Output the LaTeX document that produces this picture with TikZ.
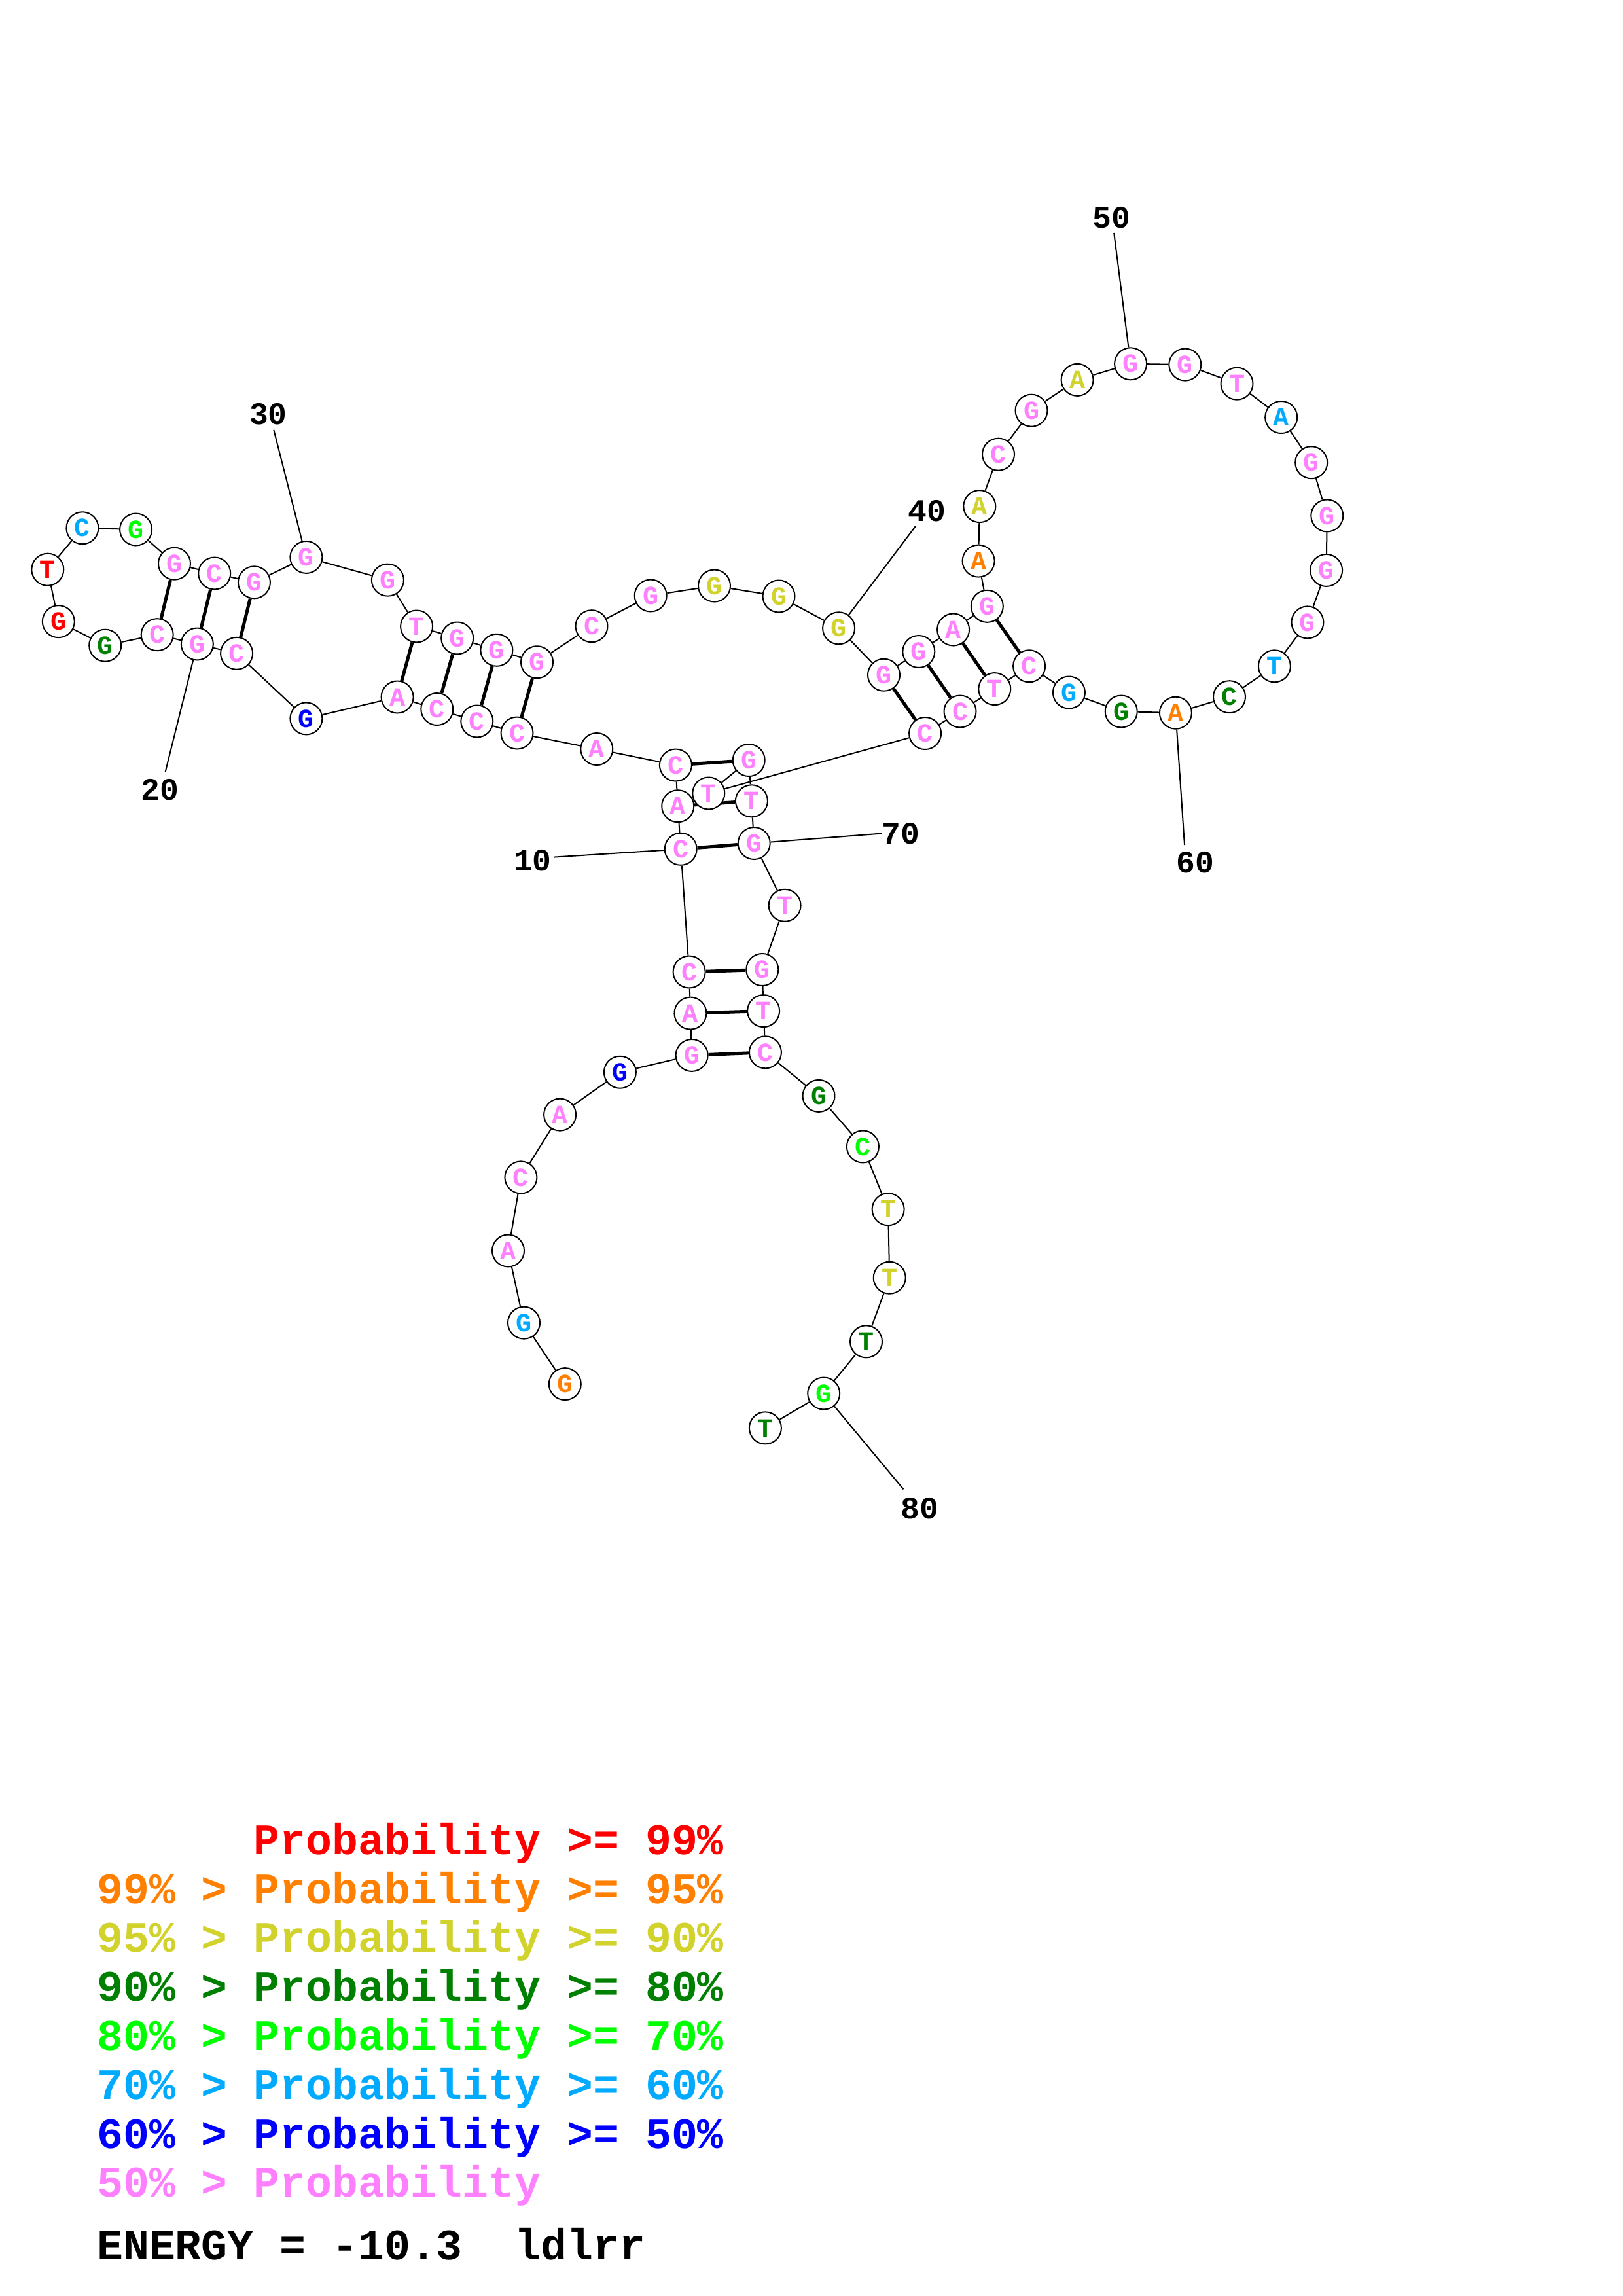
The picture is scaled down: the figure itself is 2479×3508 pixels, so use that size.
\documentclass[tikz,border=0pt]{standalone}
\usepackage{fontspec}
\newfontfamily\monofnt{Liberation Mono}
\usetikzlibrary{backgrounds}
\definecolor{cRed}{RGB}{255,0,0}
\definecolor{cOra}{RGB}{255,128,0}
\definecolor{cYel}{RGB}{210,210,45}
\definecolor{cDkg}{RGB}{0,128,0}
\definecolor{cGrn}{RGB}{0,255,0}
\definecolor{cCya}{RGB}{0,170,255}
\definecolor{cBlu}{RGB}{0,0,255}
\definecolor{cPnk}{RGB}{255,128,255}
\newcommand\nuc[5]{\node[nt,text=#5] (n#1) at (#2,#3) {#4};}
\begin{document}
\begin{tikzpicture}[x=1pt,y=-1pt,
  nt/.style={circle,draw,fill=white,line width=2pt,minimum size=49pt,inner sep=0pt,
    font={\monofnt\bfseries\fontsize{40}{40}\selectfont}},
  bb/.style={line width=2pt},
  bp/.style={line width=5pt},
  lab/.style={inner sep=0pt,font={\monofnt\bfseries\fontsize{48}{48}\selectfont}},
  leg/.style={anchor=base west,inner sep=0pt,font={\monofnt\bfseries\fontsize{66.5}{66.5}\selectfont}}]
\useasboundingbox (0,0) rectangle (2479,3508);
\nuc{1}{863.3}{2114.6}{G}{cOra}
\nuc{2}{800.5}{2021.1}{G}{cCya}
\nuc{3}{776.5}{1910.9}{A}{cPnk}
\nuc{4}{795.9}{1798.9}{C}{cPnk}
\nuc{5}{855.6}{1703.1}{A}{cPnk}
\nuc{6}{947.4}{1638.2}{G}{cBlu}
\nuc{7}{1057.1}{1612.4}{G}{cPnk}
\nuc{8}{1054.9}{1548.1}{A}{cPnk}
\nuc{9}{1053.1}{1485.0}{C}{cPnk}
\nuc{10}{1040.2}{1297.3}{C}{cPnk}
\nuc{11}{1035.7}{1231.7}{A}{cPnk}
\nuc{12}{1032.4}{1169}{C}{cPnk}
\nuc{13}{911.8}{1144.5}{A}{cPnk}
\nuc{14}{790}{1120}{C}{cPnk}
\nuc{15}{728.8}{1102}{C}{cPnk}
\nuc{16}{667.8}{1083.5}{C}{cPnk}
\nuc{17}{607.1}{1065}{A}{cPnk}
\nuc{18}{467.9}{1097.9}{G}{cBlu}
\nuc{19}{361.6}{998.3}{C}{cPnk}
\nuc{20}{301.3}{984.0}{G}{cPnk}
\nuc{21}{240.2}{969.7}{C}{cPnk}
\nuc{22}{160.7}{986.2}{G}{cDkg}
\nuc{23}{89.3}{949.6}{G}{cRed}
\nuc{24}{72.8}{870.2}{T}{cRed}
\nuc{25}{125.9}{806.8}{C}{cCya}
\nuc{26}{207.6}{809.0}{G}{cGrn}
\nuc{27}{266.5}{861.2}{G}{cPnk}
\nuc{28}{327.7}{876.0}{C}{cPnk}
\nuc{29}{388.4}{889.8}{G}{cPnk}
\nuc{30}{467.9}{851.4}{G}{cPnk}
\nuc{31}{592.4}{886.2}{G}{cPnk}
\nuc{32}{636.6}{957}{T}{cPnk}
\nuc{33}{698.7}{975}{G}{cPnk}
\nuc{34}{758.9}{993.3}{G}{cPnk}
\nuc{35}{820.5}{1011.7}{G}{cPnk}
\nuc{36}{904.0}{956.7}{C}{cPnk}
\nuc{37}{994.2}{910}{G}{cPnk}
\nuc{38}{1091.5}{895}{G}{cYel}
\nuc{39}{1190}{911}{G}{cYel}
\nuc{40}{1281.6}{959.8}{G}{cYel}
\nuc{41}{1350.5}{1031.2}{G}{cPnk}
\nuc{42}{1403.8}{995.5}{G}{cPnk}
\nuc{43}{1456.6}{962.0}{A}{cPnk}
\nuc{44}{1508.3}{926.3}{G}{cPnk}
\nuc{45}{1495.1}{857.1}{A}{cOra}
\nuc{46}{1496.8}{773.6}{A}{cYel}
\nuc{47}{1525.5}{694.2}{C}{cPnk}
\nuc{48}{1576.0}{627.2}{G}{cPnk}
\nuc{49}{1646.1}{580.4}{A}{cYel}
\nuc{50}{1727.6}{555.8}{G}{cPnk}
\nuc{51}{1810.8}{557.1}{G}{cPnk}
\nuc{52}{1890.0}{586.2}{T}{cPnk}
\nuc{53}{1957.7}{637.5}{A}{cCya}
\nuc{54}{2003.7}{706.7}{G}{cPnk}
\nuc{55}{2027.8}{787.9}{G}{cPnk}
\nuc{56}{2026.6}{871.4}{G}{cPnk}
\nuc{57}{1997.9}{950.9}{G}{cPnk}
\nuc{58}{1947.4}{1017.8}{T}{cCya}
\nuc{59}{1878.5}{1064.7}{C}{cDkg}
\nuc{60}{1796.4}{1089.2}{A}{cOra}
\nuc{61}{1713.2}{1087.0}{G}{cDkg}
\nuc{62}{1633.4}{1058.0}{G}{cCya}
\nuc{63}{1572.6}{1017.8}{C}{cPnk}
\nuc{64}{1519.8}{1052.6}{T}{cPnk}
\nuc{65}{1467.0}{1087.0}{C}{cPnk}
\nuc{66}{1413.6}{1120.5}{C}{cPnk}
\nuc{67}{1082.8}{1212}{T}{cPnk}
\nuc{68}{1144.2}{1161.5}{G}{cPnk}
\nuc{69}{1148.4}{1223.8}{T}{cPnk}
\nuc{70}{1152.2}{1288.5}{G}{cPnk}
\nuc{71}{1199.1}{1383.3}{T}{cPnk}
\nuc{72}{1164.8}{1481.5}{G}{cPnk}
\nuc{73}{1166.6}{1544.6}{T}{cPnk}
\nuc{74}{1169.4}{1607.8}{C}{cPnk}
\nuc{75}{1251.0}{1674.4}{G}{cDkg}
\nuc{76}{1318.4}{1751.9}{C}{cGrn}
\nuc{77}{1357.1}{1847.7}{T}{cYel}
\nuc{78}{1359.2}{1952.2}{T}{cYel}
\nuc{79}{1323.5}{2049.8}{T}{cDkg}
\nuc{80}{1258.7}{2129.0}{G}{cGrn}
\nuc{81}{1169.4}{2181.8}{T}{cDkg}
% label end points
\coordinate (e10) at (846.4,1309.6);
\coordinate (e20) at (252.7,1179.1);
\coordinate (e30) at (418.3,656.8);
\coordinate (e40) at (1399.2,803.6);
\coordinate (e50) at (1702.2,356);
\coordinate (e60) at (1810,1291);
\coordinate (e70) at (1347.3,1273.5);
\coordinate (e80) at (1380.4,2275.3);
\node[lab] (t10) at (813.8,1314.9) {10};
\node[lab] (t20) at (244.6,1206.3) {20};
\node[lab] (t30) at (409.8,632.7) {30};
\node[lab] (t40) at (1416.5,780.3) {40};
\node[lab] (t50) at (1698.2,332.7) {50};
\node[lab] (t60) at (1826,1318) {60};
\node[lab] (t70) at (1376,1273.5) {70};
\node[lab] (t80) at (1405,2304.5) {80};
\begin{pgfonlayer}{background}
\fill[white] (0,0) rectangle (2479,3508);
\foreach \i in {1,...,80}{
  \pgfmathtruncatemacro\j{\i+1}
  \draw[bb] (n\i) -- (n\j);
}
\foreach \a/\b in {7/74,8/73,9/72,10/70,11/69,12/68,14/35,15/34,16/33,17/32,19/29,20/28,21/27,41/66,42/65,43/64,44/63}
  \draw[bp] (n\a) -- (n\b);
\foreach \k in {10,20,...,80}
  \draw[bb] (n\k) -- (e\k);
\end{pgfonlayer}
% legend
\node[leg,text=cRed] (L1) at (148,2833.3) {\hphantom{99\%\ >\ }Probability >= 99\%};
\node[leg,text=cOra] (L2) at (148,2908.1) {99\%\ >\ Probability >= 95\%};
\node[leg,text=cYel] (L3) at (148,2982.9) {95\%\ >\ Probability >= 90\%};
\node[leg,text=cDkg] (L4) at (148,3057.7) {90\%\ >\ Probability >= 80\%};
\node[leg,text=cGrn] (L5) at (148,3132.5) {80\%\ >\ Probability >= 70\%};
\node[leg,text=cCya] (L6) at (148,3207.3) {70\%\ >\ Probability >= 60\%};
\node[leg,text=cBlu] (L7) at (148,3282.1) {60\%\ >\ Probability >= 50\%};
\node[leg,text=cPnk] (L8) at (148,3356.9) {50\%\ >\ Probability};
\node[leg,text=black] (L9) at (148,3452) {ENERGY = -10.3\ \ ldlrr};
\end{tikzpicture}
\end{document}
